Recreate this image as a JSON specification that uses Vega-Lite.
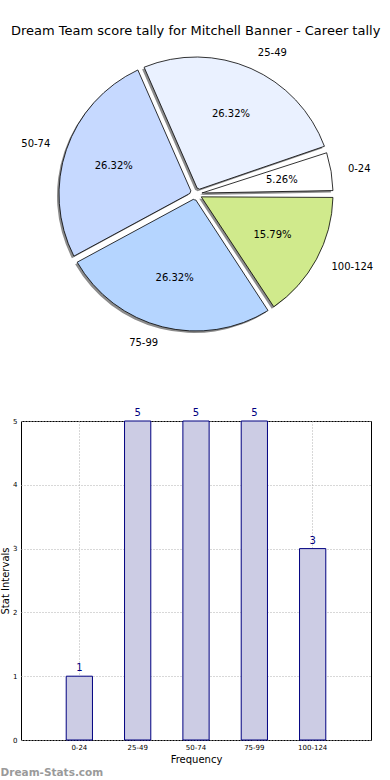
{
  "$schema": "https://vega.github.io/schema/vega-lite/v6.json",
  "padding": {"top": 25, "left": 0, "right": 0, "bottom": 0},
  "autosize": {"type": "pad"},
  "config": {"font": "DejaVu Sans", "view": {"stroke": null}},
  "background": "white",
  "datasets": {
    "tally": [
      {"range": "0-24", "start": 0, "count": 1, "pct": "5.26%"},
      {"range": "25-49", "start": 25, "count": 5, "pct": "26.32%"},
      {"range": "50-74", "start": 50, "count": 5, "pct": "26.32%"},
      {"range": "75-99", "start": 75, "count": 5, "pct": "26.32%"},
      {"range": "100-124", "start": 100, "count": 3, "pct": "15.79%"}
    ]
  },
  "title": {"text": "Dream Team score tally for Mitchell Banner - Career tally", "fontSize": 13, "fontWeight": "normal", "color": "black", "anchor": "middle", "frame": "bounds", "offset": -4, "dx": 9},
  "spacing": 53,
  "vconcat": [
    {
      "width": 350,
      "height": 320,
      "view": {"stroke": null},
      "data": {"name": "tally"},
      "encoding": {
        "theta": {"field": "count", "type": "quantitative", "stack": true, "scale": {"range": [1.5708, -4.7124]}},
        "order": {"field": "start", "type": "quantitative"}
      },
      "layer": [
        {
          "mark": {"type": "arc", "radius": 137, "innerRadius": 6, "padAngle": 0.05, "fill": "#8c8c8c", "xOffset": -2, "yOffset": 2}
        },
        {
          "mark": {"type": "arc", "radius": 137, "innerRadius": 6, "padAngle": 0.05, "stroke": "black", "strokeWidth": 0.8},
          "encoding": {
            "color": {"field": "range", "type": "nominal", "legend": null,
              "scale": {"domain": ["0-24", "25-49", "50-74", "75-99", "100-124"], "range": ["#ffffff", "#eaf1ff", "#c6d9ff", "#b5d5ff", "#d0ea8c"]}}
          }
        },
        {
          "mark": {"type": "text", "radius": 87, "fontSize": 10, "color": "black"},
          "encoding": {"text": {"field": "pct"}}
        },
        {
          "mark": {"type": "text", "radius": 154, "fontSize": 10, "color": "black", "align": "left"},
          "encoding": {
            "text": {"field": "range"},
            "opacity": {"condition": {"test": "datum.start >= 50 && datum.start < 100", "value": 0}, "value": 1}
          }
        },
        {
          "mark": {"type": "text", "radius": 154, "fontSize": 10, "color": "black", "align": "right"},
          "encoding": {
            "text": {"field": "range"},
            "opacity": {"condition": {"test": "datum.start >= 50 && datum.start < 100", "value": 1}, "value": 0}
          }
        }
      ]
    },
    {
      "width": 350,
      "height": 319,
      "view": {"stroke": "black", "strokeWidth": 1},
      "data": {"name": "tally"},
      "title": {"text": "Dream-Stats.com", "orient": "bottom", "anchor": "start", "frame": "bounds", "fontSize": 10.5, "fontWeight": "bold", "color": "#9a9a9a", "offset": 4},
      "encoding": {
        "x": {"field": "range", "type": "ordinal", "sort": ["0-24", "25-49", "50-74", "75-99", "100-124"],
          "scale": {"paddingInner": 0.55, "paddingOuter": 0.775},
          "axis": {"title": "Frequency", "titleFontSize": 10, "titleFontWeight": "normal", "titleColor": "black", "titlePadding": 4, "labelFontSize": 7, "labelColor": "black", "labelAngle": 0, "labelPadding": 3, "domain": false, "ticks": false, "grid": true, "gridDash": [1, 2], "gridColor": "#b0b0b0"}},
        "y": {"field": "count", "type": "quantitative", "scale": {"domain": [0, 5], "nice": false},
          "axis": {"title": "Stat Intervals", "titleFontSize": 10, "titleFontWeight": "normal", "titleColor": "black", "titlePadding": 2, "labelFontSize": 7, "labelColor": "black", "values": [0, 1, 2, 3, 4, 5], "domain": false, "ticks": false, "labelPadding": 4, "grid": true, "gridDash": [1, 2], "gridColor": "#b0b0b0"}}
      },
      "layer": [
        {"mark": {"type": "bar", "fill": "#ccccE4", "stroke": "#000080", "strokeWidth": 1}},
        {"mark": {"type": "text", "baseline": "bottom", "dy": -3, "fontSize": 10, "color": "#000080"},
          "encoding": {"text": {"field": "count", "type": "quantitative"}}}
      ]
    }
  ]
}
